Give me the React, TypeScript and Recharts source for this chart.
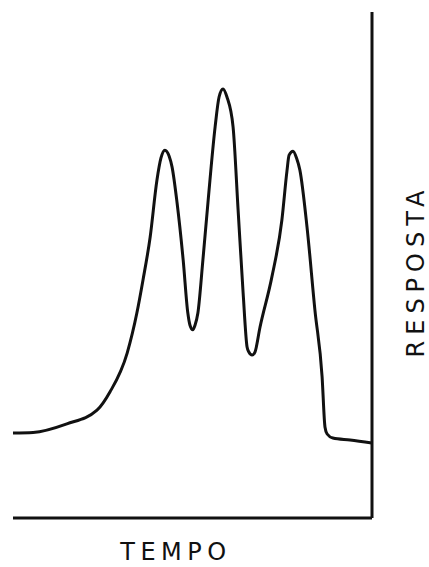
import { LineChart, Line, XAxis, YAxis, ReferenceLine } from "recharts";

// tempo (0-100) e resposta (0-100)
const tempo = [
  0, 5.6, 15.0, 23.4, 27.0, 31.8, 34.5, 36.2, 38.2, 40.1, 41.2, 42.3, 43.5, 44.3, 45.7, 47.4, 48.7,
  49.3, 50.1, 50.7, 51.5, 52.9, 54.3, 56.3, 57.4, 58.5, 59.6, 61.3, 62.7, 64.1, 65.2, 65.7,
  66.6, 67.4, 68.8, 72.1, 74.9, 76.3, 76.9, 78.0, 79.0, 79.9, 81.9, 84.1, 86.1, 86.9, 87.5, 89.1,
  93.9, 100,
];
const resposta = [
  16.8, 16.9, 18.6, 21.3, 24.9, 32.6, 40.5, 47.0, 55.5, 66.8, 71.1, 72.7, 71.5, 69.4, 62.3, 51.0,
  40.5, 38.1, 37.2, 38.1, 40.5, 51.0, 62.3, 77.3, 83.2, 84.8, 83.2, 77.3, 60.9, 44.5, 33.8,
  32.8, 32.2, 32.8, 37.7, 47.6, 58.9, 68.5, 71.7, 72.5, 71.1, 68.8, 57.5, 41.1, 27.9, 18.0, 16.6,
  15.8, 15.4, 14.8,
];

const data = tempo.map((t, i) => ({ t, v: resposta[i] }));

const labelStyle = {
  fontFamily: "'DejaVu Sans', sans-serif",
  fontSize: 24,
  fill: "#111",
};

export default function App() {
  return (
    <div style={{ position: "absolute", left: 0, top: 0, width: 429, height: 567, background: "#fff" }}>
      <LineChart width={429} height={567} data={data} margin={{ top: 12, right: 57, bottom: 49, left: 13 }}>
        <XAxis dataKey="t" type="number" domain={[0, 100]} hide />
        <YAxis type="number" domain={[0, 100]} hide />
        <ReferenceLine y={0} stroke="#111" strokeWidth={3} />
        <ReferenceLine x={100} stroke="#111" strokeWidth={3} />
        <Line
          type="monotone"
          dataKey="v"
          stroke="#111"
          strokeWidth={3}
          dot={false}
          isAnimationActive={false}
        />
        <text x={176} y={560} textAnchor="middle" letterSpacing={5.5} style={labelStyle}>
          TEMPO
        </text>
        <text
          x={424}
          y={271}
          textAnchor="middle"
          letterSpacing={6}
          transform="rotate(-90 424 271)"
          style={labelStyle}
        >
          RESPOSTA
        </text>
      </LineChart>
    </div>
  );
}
